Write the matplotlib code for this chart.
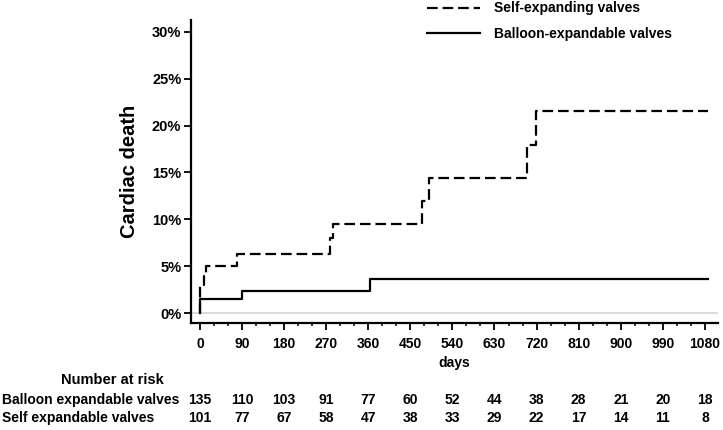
import numpy as np
import matplotlib.pyplot as plt
from matplotlib.ticker import MultipleLocator, PercentFormatter

plt.rcParams['font.family'] = ['Liberation Sans', 'DejaVu Sans']
plt.rcParams['font.weight'] = 'bold'
plt.rcParams['axes.labelweight'] = 'bold'

# Kaplan-Meier style cumulative cardiac death (%)
self_days = [0, 0, 8, 14, 79, 278, 285, 476, 490, 699, 719, 1086]
self_death = [0, 3.0, 4.0, 5.05, 6.3, 8.0, 9.5, 12.0, 14.45, 17.9, 21.6, 21.6]

balloon_days = [0, 0, 90, 364, 1086]
balloon_death = [0, 1.5, 2.35, 3.65, 3.65]

tick_days = list(range(0, 1081, 90))
risk_balloon = [135, 110, 103, 91, 77, 60, 52, 44, 38, 28, 21, 20, 18]
risk_self = [101, 77, 67, 58, 47, 38, 33, 29, 22, 17, 14, 11, 8]

W, H = 723, 430
fig = plt.figure(figsize=(W / 100, H / 100), dpi=100)
ax = fig.add_axes([191 / W, 1 - 323 / H, (718 - 191) / W, (323 - 20) / H])

fs = 10

ax.axhline(0, color='#dcdcdc', lw=1.5, zorder=1)
ax.step(self_days, self_death, where='post', color='black', lw=1.6,
        dashes=(4.8, 2.2), label='Self-expanding valves', zorder=3)
ax.step(balloon_days, balloon_death, where='post', color='black', lw=1.6,
        label='Balloon-expandable valves', zorder=3)

ax.set_xlim(-19, 1108)
ax.set_ylim(-1.03, 31.24)
ax.set_xticks(tick_days)
ax.xaxis.set_minor_locator(MultipleLocator(30))
ax.set_yticks(range(0, 31, 5))
ax.yaxis.set_major_formatter(PercentFormatter(decimals=0))

for s in ['top', 'right']:
    ax.spines[s].set_visible(False)
for s in ['left', 'bottom']:
    ax.spines[s].set_linewidth(1.6)

ax.tick_params(axis='both', which='major', length=5, width=1.3, colors='black')
ax.tick_params(axis='x', which='major', pad=5, labelsize=fs)
ax.tick_params(axis='y', which='major', pad=2, labelsize=10.5)
ax.tick_params(axis='x', which='minor', length=2.5, width=1.1)

ax.set_xlabel('days', fontsize=fs, labelpad=4)
ax.set_ylabel('Cardiac death', fontsize=14.5)
ax.yaxis.set_label_coords((139 - 191) / (718 - 191), 0.5)

ax.legend(loc='upper left', bbox_to_anchor=(426 / W, 1.0), bbox_transform=fig.transFigure,
          frameon=False, fontsize=fs, handlelength=3.8, handletextpad=1.0,
          labelspacing=0.85, borderpad=0.1, borderaxespad=0)

# number at risk table
to_fig = lambda d: (191 + (d + 19) / 1127 * (718 - 191)) / W
fig.text(112 / W, 1 - 380 / H, 'Number at risk', fontsize=10.5, ha='center', va='center')
fig.text(2 / W, 1 - 400 / H, 'Balloon expandable valves', fontsize=fs, ha='left', va='center')
fig.text(2 / W, 1 - 418 / H, 'Self expandable valves', fontsize=fs, ha='left', va='center')
for d, b, s in zip(tick_days, risk_balloon, risk_self):
    fig.text(to_fig(d), 1 - 400 / H, str(b), fontsize=fs, ha='center', va='center')
    fig.text(to_fig(d), 1 - 418 / H, str(s), fontsize=fs, ha='center', va='center')

fig.savefig('out.png', dpi=100)
